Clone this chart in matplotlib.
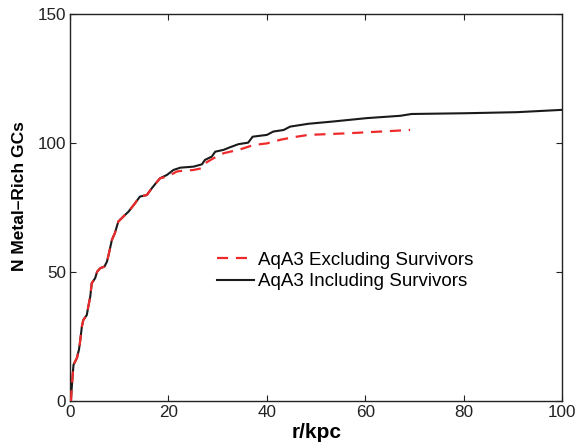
import matplotlib
matplotlib.use("Agg")
import matplotlib.pyplot as plt

plt.rcParams["font.family"] = ["Liberation Sans", "DejaVu Sans"]

# cumulative counts
r_incl = [0.0, 0.2, 0.3, 0.5, 0.7, 1.4, 1.8, 2.0, 2.4, 2.7, 3.4, 3.7, 4.1, 4.4, 5.1, 5.5,
          6.1, 7.0, 7.5, 7.9, 8.5, 9.1, 9.8, 10.8, 11.9, 13.2, 14.2, 15.6, 16.6, 17.4,
          18.3, 19.7, 21.0, 22.4, 25.1, 26.8, 27.4, 28.8, 29.5, 31.2, 32.5, 34.2, 36.2,
          37.1, 40.0, 41.3, 43.4, 44.7, 48.4, 53.5, 60.3, 67.1, 69.4, 80.6, 90.8, 100.0]
n_incl = [0.0, 0.4, 4.0, 9.4, 14.0, 16.7, 19.8, 22.4, 28.8, 31.4, 33.3, 36.5, 40.4, 45.6,
          47.6, 50.1, 51.4, 52.1, 54.0, 57.2, 62.4, 65.0, 69.5, 71.4, 73.4, 76.6, 79.2,
          79.8, 82.4, 84.3, 86.3, 87.6, 89.5, 90.4, 90.8, 91.7, 93.4, 94.7, 96.6, 97.3,
          98.3, 99.5, 100.1, 102.4, 103.1, 104.4, 105.0, 106.3, 107.4, 108.3, 109.6,
          110.5, 111.2, 111.5, 111.9, 112.8]

r_excl = [0.0, 0.2, 0.3, 0.5, 0.7, 1.4, 1.8, 2.0, 2.4, 2.7, 3.4, 3.7, 4.1, 4.4, 5.1, 5.5,
          6.1, 7.0, 7.5, 7.9, 8.5, 9.1, 9.8, 10.8, 11.9, 13.2, 14.2, 15.6, 16.6, 17.4,
          18.3, 19.7, 21.7, 22.4, 25.1, 26.8, 27.4, 29.1, 31.2, 34.6, 37.3, 40.0, 42.7,
          45.4, 48.4, 56.2, 69.1]
n_excl = [0.0, 0.4, 4.0, 9.4, 14.0, 16.7, 19.8, 22.4, 28.8, 31.4, 33.3, 36.5, 40.4, 45.6,
          47.6, 50.1, 51.4, 52.1, 54.0, 57.2, 62.4, 65.0, 69.5, 71.4, 73.4, 76.6, 79.2,
          79.8, 82.4, 84.3, 86.3, 86.9, 88.9, 89.1, 89.5, 90.2, 92.1, 94.0, 96.0, 97.5,
          99.2, 99.8, 101.2, 102.2, 103.1, 103.7, 105.0]

x_ticks = [0, 20, 40, 60, 80, 100]
y_ticks = [0, 50, 100, 150]

fig = plt.figure(figsize=(5.79, 4.47), dpi=100)
ax = fig.add_axes([0.121, 0.103, 0.850, 0.866])

ax.plot(r_excl, n_excl, color="#EE2A2A", linewidth=1.6, linestyle=(0, (5, 3.5)),
        label="AqA3 Excluding Survivors", zorder=3)
ax.plot(r_incl, n_incl, color="#1A1A1A", linewidth=1.5, label="AqA3 Including Survivors", zorder=2)

ax.set_xlim(0, 100)
ax.set_ylim(0, 150)
ax.set_xticks(x_ticks)
ax.set_yticks(y_ticks)
ax.tick_params(direction="in", length=4, width=0.8, top=True, right=True, labelsize=12.3,
               colors="#222222", pad=3)
for s in ax.spines.values():
    s.set_linewidth(1.0)
    s.set_color("#222222")

ax.set_xlabel("r/kpc", fontsize=15, fontweight="bold", labelpad=2)
ax.set_ylabel("N Metal\u2013Rich GCs", fontsize=12.5, fontweight="bold")
ax.yaxis.set_label_coords(-0.088, 0.53)

ax.legend(loc="upper left", bbox_to_anchor=(0.299, 0.385), frameon=False, fontsize=13.5,
          borderaxespad=0, borderpad=0, handlelength=1.95, handletextpad=0.25,
          labelspacing=0.22)

fig.savefig("out.png", dpi=100)
plt.close(fig)
